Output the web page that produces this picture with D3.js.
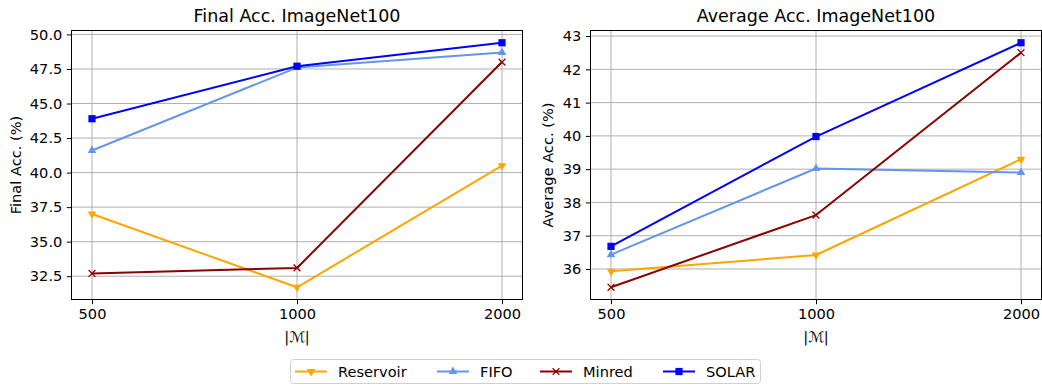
<!DOCTYPE html>
<html>
<head>
<meta charset="utf-8">
<script src="https://cdn.jsdelivr.net/npm/d3@7"></script>
<style>
  html, body { margin: 0; padding: 0; background: #fff; }
  svg text { font-family: "DejaVu Sans", sans-serif; fill: #000; }
</style>
</head>
<body>
<svg id="chart" width="1042" height="385"></svg>
<script>
// Memory sizes on the x axis
const memorySizes = ["500", "1000", "2000"];

// Series names, drawing order
const methods = ["Reservoir", "FIFO", "Minred", "SOLAR"];

// Final accuracy (%) per memory size
const finalReservoir = [37.0, 31.7, 40.5];
const finalFIFO      = [41.6, 47.6, 48.7];
const finalMinred    = [32.7, 33.1, 48.0];
const finalSOLAR     = [43.9, 47.7, 49.4];

// Average accuracy (%) per memory size
const avgReservoir = [35.93, 36.42, 39.3];
const avgFIFO      = [36.43, 39.02, 38.9];
const avgMinred    = [35.45, 37.62, 42.5];
const avgSOLAR     = [36.68, 39.98, 42.8];

// Tick labels
const finalTicks = [32.5, 35.0, 37.5, 40.0, 42.5, 45.0, 47.5, 50.0];
const avgTicks   = [36, 37, 38, 39, 40, 41, 42, 43];

const styles = {
  Reservoir: { color: "#ffa500", marker: "tridown" },
  FIFO:      { color: "#6495ed", marker: "triup" },
  Minred:    { color: "#8b0000", marker: "x" },
  SOLAR:     { color: "#0000ff", marker: "square" }
};

const panels = [
  {
    title: "Final Acc. ImageNet100",
    ylabel: "Final Acc. (%)",
    series: { Reservoir: finalReservoir, FIFO: finalFIFO, Minred: finalMinred, SOLAR: finalSOLAR },
    ticks: finalTicks,
    fmt: d3.format(".1f"),
    x0: 71.5, x1: 522.5, ylabX: 15
  },
  {
    title: "Average Acc. ImageNet100",
    ylabel: "Average Acc. (%)",
    series: { Reservoir: avgReservoir, FIFO: avgFIFO, Minred: avgMinred, SOLAR: avgSOLAR },
    ticks: avgTicks,
    fmt: d3.format("d"),
    x0: 590.5, x1: 1041.5, ylabX: 547
  }
];

const plotTop = 30.5, plotBottom = 299.5;
const labelSize = 14.6, titleSize = 17.5;
const svg = d3.select("#chart");

function drawMarker(g, type, x, y, color) {
  if (type === "x") {
    const r = 3.4;
    g.append("path")
      .attr("d", `M${x - r},${y - r}L${x + r},${y + r}M${x - r},${y + r}L${x + r},${y - r}`)
      .attr("stroke", color).attr("stroke-width", 1.3).attr("fill", "none");
  } else if (type === "square") {
    g.append("path")
      .attr("d", d3.symbol(d3.symbolSquare, 52)())
      .attr("transform", `translate(${x},${y})`)
      .attr("fill", color);
  } else {
    const rot = type === "tridown" ? 180 : 0;
    g.append("path")
      .attr("d", d3.symbol(d3.symbolTriangle, 32)())
      .attr("transform", `translate(${x},${y}) rotate(${rot})`)
      .attr("fill", color);
  }
}

panels.forEach(p => {
  const all = methods.flatMap(m => p.series[m]);
  const lo = d3.min(all), hi = d3.max(all), pad = (hi - lo) * 0.05;

  const x = d3.scalePoint().domain(memorySizes).range([p.x0, p.x1]).padding(0.1);
  const y = d3.scaleLinear().domain([lo - pad, hi + pad]).range([plotBottom, plotTop]);

  const g = svg.append("g");

  // grid
  g.append("g").selectAll("line").data(memorySizes).join("line")
    .attr("x1", d => x(d)).attr("x2", d => x(d))
    .attr("y1", plotTop).attr("y2", plotBottom)
    .attr("stroke", "#b0b0b0").attr("stroke-width", 1);
  g.append("g").selectAll("line").data(p.ticks).join("line")
    .attr("x1", p.x0).attr("x2", p.x1)
    .attr("y1", d => y(d)).attr("y2", d => y(d))
    .attr("stroke", "#b0b0b0").attr("stroke-width", 1);

  // series
  methods.forEach(m => {
    const vals = p.series[m];
    const st = styles[m];
    const pts = memorySizes.map((k, i) => [x(k), y(vals[i])]);
    g.append("path")
      .attr("d", d3.line()(pts))
      .attr("fill", "none").attr("stroke", st.color).attr("stroke-width", 2)
      .attr("stroke-linejoin", "round");
    pts.forEach(([px, py]) => drawMarker(g, st.marker, px, py, st.color));
  });

  // axes
  const xAxis = g.append("g").attr("transform", `translate(0,${plotBottom})`)
    .call(d3.axisBottom(x).tickSize(4.7).tickPadding(4.5));
  const yAxis = g.append("g").attr("transform", `translate(${p.x0},0)`)
    .call(d3.axisLeft(y).tickValues(p.ticks).tickFormat(p.fmt).tickSize(4.7).tickPadding(4.5));
  [xAxis, yAxis].forEach(a => {
    a.select(".domain").remove();
    a.selectAll("text").attr("font-size", labelSize).attr("font-family", "DejaVu Sans");
    a.selectAll("line").attr("stroke", "#000").attr("stroke-width", 1);
  });

  // frame
  g.append("rect")
    .attr("x", p.x0).attr("y", plotTop)
    .attr("width", p.x1 - p.x0).attr("height", plotBottom - plotTop)
    .attr("fill", "none").attr("stroke", "#000").attr("stroke-width", 1);

  // title and labels
  g.append("text")
    .attr("x", (p.x0 + p.x1) / 2).attr("y", 22)
    .attr("text-anchor", "middle").attr("font-size", titleSize)
    .text(p.title);
  g.append("text")
    .attr("transform", `translate(${p.ylabX},${(plotTop + plotBottom) / 2}) rotate(-90)`)
    .attr("text-anchor", "middle").attr("dominant-baseline", "central")
    .attr("font-size", labelSize)
    .text(p.ylabel);
  g.append("text")
    .attr("x", (p.x0 + p.x1) / 2).attr("y", 342)
    .attr("text-anchor", "middle").attr("font-size", labelSize)
    .attr("font-family", "DejaVu Serif")
    .text("|ℳ|");
});

// legend
const leg = svg.append("g");
leg.append("rect")
  .attr("x", 290.5).attr("y", 359.5).attr("width", 470).attr("height", 24)
  .attr("rx", 3).attr("fill", "#fff").attr("fill-opacity", 0.8)
  .attr("stroke", "#d0d0d0").attr("stroke-width", 1);
const legX = [295, 437, 540, 663];
methods.forEach((m, i) => {
  const st = styles[m];
  const lx = legX[i], ly = 371.5;
  leg.append("line")
    .attr("x1", lx).attr("x2", lx + 32).attr("y1", ly).attr("y2", ly)
    .attr("stroke", st.color).attr("stroke-width", 2);
  drawMarker(leg, st.marker, lx + 16, ly, st.color);
  leg.append("text")
    .attr("x", lx + 43).attr("y", ly).attr("dominant-baseline", "central")
    .attr("font-size", labelSize).text(m);
});
</script>
</body>
</html>
